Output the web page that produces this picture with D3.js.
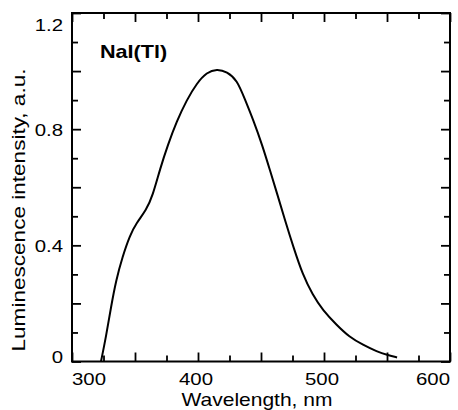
<!DOCTYPE html>
<html>
<head>
<meta charset="utf-8">
<script src="https://cdn.jsdelivr.net/npm/d3@7"></script>
<style>
    body { margin: 0; background: #fff; }
    svg { display: block; }
    text { font-family: "Liberation Sans", Arial, sans-serif; fill: #000; }
    .tick line { stroke: #000; stroke-width: 1.8; }
</style>
</head>
<body>
<div id="chart"></div>
<script>
// emission spectrum
let wavelength = [323, 327, 331, 335, 340, 346, 351, 359, 364, 370, 376, 383, 391, 399, 407, 415,
    423, 431, 437, 444, 451, 457, 463, 469, 476, 483, 491, 499, 510, 520, 531, 542, 551, 558];
let intensity = [0, 0.085, 0.189, 0.28, 0.36, 0.435, 0.476, 0.522, 0.57, 0.665, 0.745, 0.826, 0.9, 0.958, 0.996, 1.007,
    0.998, 0.969, 0.905, 0.83, 0.745, 0.66, 0.575, 0.487, 0.39, 0.3, 0.229, 0.177, 0.126, 0.085, 0.057, 0.034, 0.022, 0.014];

let xLabels = [300, 400, 500, 600];
let xMajor = [300, 350, 400, 450, 500, 550, 600];
let xMinor = [325, 375, 425, 475, 525, 575];
let yLabels = [0, 0.4, 0.8, 1.2];
let yMajor = [0, 0.2, 0.4, 0.6, 0.8, 1.0, 1.2];
let yMinor = [0.1, 0.3, 0.5, 0.7, 0.9, 1.1];

let sampleName = "NaI(Tl)";
let xTitle = "Wavelength, nm";
let yTitle = "Luminescence intensity, a.u.";

let width = 458, height = 410;
let stretch = 1.2; // the scanned lettering is wider than Arial

let x = d3.scaleLinear().domain([300, 600]).range([72, 450]);
let y = d3.scaleLinear().domain([0, 1.2]).range([361.5, 13]);

let svg = d3.select("#chart").append("svg")
    .attr("width", width)
    .attr("height", height);

// inward ticks on all four sides
function addTicks(axis, values, size, transform) {
    let g = svg.append("g")
        .attr("transform", transform)
        .call(axis.tickValues(values).tickSize(size).tickFormat(""));
    g.select(".domain").remove();
}
addTicks(d3.axisBottom(x), xMajor, -9, "translate(0," + y(0) + ")");
addTicks(d3.axisBottom(x), xMinor, -6, "translate(0," + y(0) + ")");
addTicks(d3.axisTop(x), xMajor, -9, "translate(0," + y(1.2) + ")");
addTicks(d3.axisTop(x), xMinor, -6, "translate(0," + y(1.2) + ")");
addTicks(d3.axisLeft(y), yMajor, -9, "translate(" + x(300) + ",0)");
addTicks(d3.axisLeft(y), yMinor, -6, "translate(" + x(300) + ",0)");
addTicks(d3.axisRight(y), yMajor, -9, "translate(" + x(600) + ",0)");
addTicks(d3.axisRight(y), yMinor, -6, "translate(" + x(600) + ",0)");

// frame
svg.append("rect")
    .attr("x", x(300))
    .attr("y", y(1.2))
    .attr("width", x(600) - x(300))
    .attr("height", y(0) - y(1.2))
    .attr("fill", "none")
    .attr("stroke", "#000")
    .attr("stroke-width", 2);

// tick labels, end labels pulled inside the frame like the original
svg.selectAll(".xlab")
    .data(xLabels)
    .enter()
    .append("text")
    .attr("class", "xlab")
    .attr("font-size", 17)
    .attr("text-anchor", (d, i) => i == 0 ? "start" : (i == xLabels.length - 1 ? "end" : "middle"))
    .attr("transform", d => "translate(" + (x(d) - (d == 300 || d == 600 ? 0 : 2)) + ",385) scale(" + stretch + ",1)")
    .text(d => d);

svg.selectAll(".ylab")
    .data(yLabels)
    .enter()
    .append("text")
    .attr("class", "ylab")
    .attr("font-size", 17)
    .attr("text-anchor", "end")
    .attr("transform", function(d) {
        let off = 7;
        if (d == 1.2) off = 18;
        if (d == 0) off = 1.5;
        return "translate(63," + (y(d) + off) + ") scale(" + stretch + ",1)";
    })
    .text(d => d == 0 ? "0" : d3.format(".1f")(d));

// axis titles
svg.append("text")
    .attr("font-size", 17.5)
    .attr("text-anchor", "middle")
    .attr("transform", "translate(257,406) scale(" + stretch + ",1)")
    .text(xTitle);

svg.append("text")
    .attr("font-size", 18.5)
    .attr("text-anchor", "middle")
    .attr("transform", "translate(25,210) rotate(-90) scale(1.22,1)")
    .text(yTitle);

svg.append("text")
    .attr("font-size", 18)
    .attr("font-weight", "bold")
    .attr("transform", "translate(100,58) scale(" + stretch + ",1)")
    .text(sampleName);

// spectrum
let points = wavelength.map((w, i) => [w, intensity[i]]);
let line = d3.line()
    .x(d => x(d[0]))
    .y(d => y(d[1]))
    .curve(d3.curveBasis);

svg.append("path")
    .datum(points)
    .attr("d", line)
    .attr("fill", "none")
    .attr("stroke", "#000")
    .attr("stroke-width", 2);
</script>
</body>
</html>
